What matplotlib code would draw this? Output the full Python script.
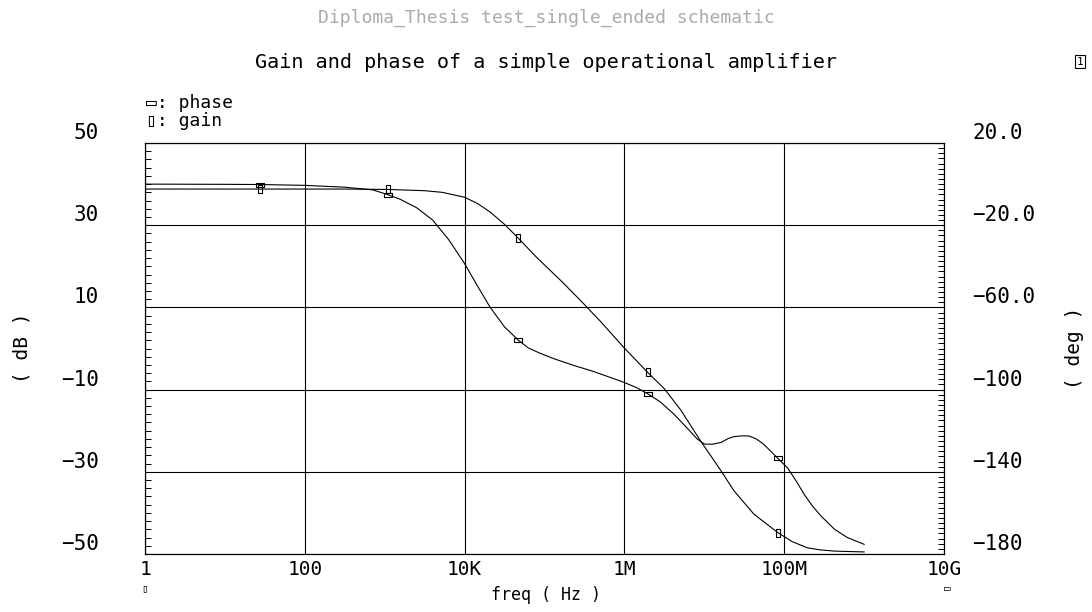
import matplotlib.pyplot as plt
import numpy as np
from matplotlib.ticker import MultipleLocator, NullLocator

plt.rcParams['font.family'] = ['DejaVu Sans Mono', 'DejaVu Sans']

# frequency points as log10(Hz)
phase_exp = [0, 1.0, 1.44, 2.0, 2.5, 2.85, 3.045, 3.2, 3.4, 3.6, 3.8, 4.0, 4.16, 4.32,
             4.5, 4.674, 4.8, 4.95, 5.12, 5.37, 5.6, 5.99, 6.15, 6.29, 6.45, 6.62,
             6.78, 6.91, 7.0, 7.1, 7.21, 7.3, 7.37, 7.47, 7.56, 7.65, 7.73, 7.82,
             7.92, 8.04, 8.15, 8.25, 8.35, 8.46, 8.63, 8.79, 9.0]
phase_deg = [0, -0.1, -0.2, -0.6, -1.5, -2.8, -5.2, -7.5, -11.5, -17.5, -27, -38.7, -49.5, -60,
             -69.5, -76, -79.8, -82.4, -85, -88.3, -91, -96.4, -99, -102, -106, -112,
             -118.5, -124, -126.5, -126.6, -125.7, -123.8, -122.9, -122.5, -122.6, -124, -126.2, -129.5,
             -133.5, -138, -144.5, -151, -156.5, -161.5, -168, -172, -175.3]

gain_exp = [0, 1.0, 1.44, 2.0, 2.5, 3.045, 3.5, 3.72, 4.0, 4.16, 4.32, 4.5, 4.674, 4.9,
            5.2, 5.45, 5.7, 5.99, 6.29, 6.5, 6.71, 6.95, 7.21, 7.37, 7.62, 7.92, 8.1,
            8.29, 8.45, 8.63, 8.8, 9.0]
gain_db = [38.8, 38.8, 38.8, 38.8, 38.8, 38.7, 38.4, 38.0, 36.8, 35.3, 33.2, 30.2, 26.8, 22.2,
           16.6, 11.7, 6.6, 0.3, -5.8, -9.8, -15.1, -22.4, -29.8, -34.6, -40.3, -44.8, -47,
           -48.5, -49.0, -49.3, -49.4, -49.5]

marker_exp = [1.44, 3.045, 4.674, 6.29, 7.92]

xtick_vals = [1, 1e2, 1e4, 1e6, 1e8, 1e10]
xtick_labels = ['1', '100', '10K', '1M', '100M', '10G']
db_ticks = [-50, -30, -10, 10, 30, 50]
db_labels = ['\u221250', '\u221230', '\u221210', '10', '30', '50']
deg_ticks = [-180, -140, -100, -60, -20, 20]
deg_labels = ['\u2212180', '\u2212140', '\u2212100', '\u221260.0', '\u221220.0', '20.0']

phase_f = 10 ** np.array(phase_exp)
gain_f = 10 ** np.array(gain_exp)
phase_marks = [phase_exp.index(m) for m in marker_exp]
gain_marks = [gain_exp.index(m) for m in marker_exp]

hrect = [(-1, -0.38), (1, -0.38), (1, 0.38), (-1, 0.38), (-1, -0.38)]
vrect = [(-0.38, -1), (0.38, -1), (0.38, 1), (-0.38, 1), (-0.38, -1)]

fig = plt.figure(figsize=(10.92, 6.12), dpi=100)
ax = fig.add_axes([0.1328, 0.0948, 0.7317, 0.6715])
ax2 = ax.twinx()

ax.plot(gain_f, gain_db, color='black', lw=0.8, marker=vrect, markersize=6,
        markevery=gain_marks, mfc='none', mec='black', mew=0.8)
ax2.plot(phase_f, phase_deg, color='black', lw=0.8, marker=hrect, markersize=6,
         markevery=phase_marks, mfc='none', mec='black', mew=0.8)

ax.set_xscale('log')
ax.set_xlim(1, 1e10)
ax.set_ylim(-50, 50)
ax2.set_ylim(-180, 20)

ax.set_xticks(xtick_vals)
ax.set_xticklabels(xtick_labels, fontsize=14)
ax.xaxis.set_minor_locator(NullLocator())
ax.tick_params(axis='x', length=0, pad=4)

ax.set_yticks(db_ticks)
ax.set_yticklabels(db_labels, fontsize=15)
ax.yaxis.set_minor_locator(MultipleLocator(2))
ax.tick_params(axis='y', which='major', length=0, pad=33)
ax.tick_params(axis='y', which='minor', direction='in', length=4, width=0.7)
for lab in ax.get_yticklabels():
    lab.set_va('bottom')

ax2.set_yticks(deg_ticks)
ax2.set_yticklabels(deg_labels, fontsize=15)
ax2.yaxis.set_minor_locator(MultipleLocator(2.5))
ax2.tick_params(axis='y', which='major', length=0, pad=20.5)
ax2.tick_params(axis='y', which='minor', direction='in', length=4, width=0.7)
for lab in ax2.get_yticklabels():
    lab.set_va('bottom')

ax.grid(True, which='major', color='black', lw=0.8)
for a in (ax, ax2):
    for s in a.spines.values():
        s.set_linewidth(0.8)

fig.text(0.5, 0.970, 'Diploma_Thesis test_single_ended schematic', ha='center', va='center',
         fontsize=13, color='#ababab')
fig.text(0.5, 0.898, 'Gain and phase of a simple operational amplifier', ha='center',
         va='center', fontsize=14.5)
fig.text(0.134, 0.832, '\u25ad: phase', ha='left', va='center', fontsize=13)
fig.text(0.134, 0.803, '\u25af: gain', ha='left', va='center', fontsize=13)
fig.text(0.5, 0.028, 'freq ( Hz )', ha='center', va='center', fontsize=12)
fig.text(0.020, 0.431, '( dB )', rotation=90, ha='center', va='center', fontsize=14)
fig.text(0.984, 0.431, '( deg )', rotation=90, ha='center', va='center', fontsize=14)
fig.text(0.1325, 0.038, '\u25af', ha='center', va='center', fontsize=8)
fig.text(0.868, 0.038, '\u25ad', ha='center', va='center', fontsize=8)
fig.text(0.989, 0.899, '1', ha='center', va='center', fontsize=8,
         bbox=dict(boxstyle='square,pad=0.15', fc='none', ec='black', lw=0.8))

fig.savefig('out.png', dpi=100)
